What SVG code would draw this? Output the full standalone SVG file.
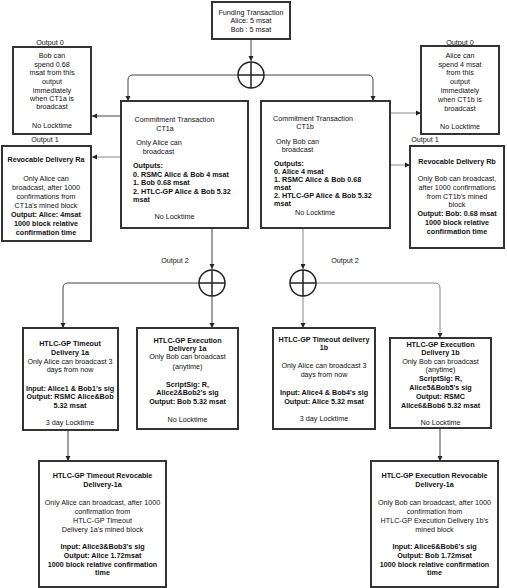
<svg xmlns="http://www.w3.org/2000/svg" width="507" height="588" viewBox="0 0 507 588">
<style>
text{font-family:"Liberation Sans",Arial,sans-serif;font-size:7.2px;fill:#111;text-anchor:middle}
.b{font-weight:bold}
.l{text-anchor:start}
.box{fill:#fff;stroke:#333;stroke-width:2}
.c{fill:none;stroke:#444;stroke-width:1}
.g{stroke:#888}
.x{fill:none;stroke:#222;stroke-width:1.5}
</style>
<defs>
<marker id="a" markerWidth="6" markerHeight="6" refX="5" refY="3" orient="auto" markerUnits="userSpaceOnUse">
<path d="M0,0.5 L5,3 L0,5.5 z" fill="#222"/>
</marker>
</defs>
<rect width="507" height="588" fill="#fff"/>

<g id="connectors">
<path class="c" d="M251,39 L251,61" marker-end="url(#a)"/>
<path class="c" d="M238,75 L133,75 Q128,75 128,80 L128,101" marker-end="url(#a)"/>
<path class="c" d="M264,75 L368,75 Q373,75 373,80 L373,101" marker-end="url(#a)"/>
<path class="c" d="M121,116 L92,116" marker-end="url(#a)"/>
<path class="c g" d="M121,157 L92,157" marker-end="url(#a)"/>
<path class="c g" d="M390,113 L421,113" marker-end="url(#a)"/>
<path class="c g" d="M390,165 L410,165" marker-end="url(#a)"/>
<path class="c" d="M212,228 L212,269" marker-end="url(#a)"/>
<path class="c g" d="M303,228 L303,269" marker-end="url(#a)"/>
<path class="c" d="M212,296 L212,328" marker-end="url(#a)"/>
<path class="c" d="M199,283 L68,283 Q63,283 63,288 L63,328" marker-end="url(#a)"/>
<path class="c g" d="M303,296 L303,328" marker-end="url(#a)"/>
<path class="c g" d="M316,283 L435,283 Q440,283 440,288 L440,338" marker-end="url(#a)"/>
<path class="c" d="M68,430 L68,461" marker-end="url(#a)"/>
<path class="c" d="M440,428 L440,461" marker-end="url(#a)"/>
</g>

<g id="xor-top"><circle class="x" cx="251" cy="75" r="13"/><path class="x" d="M238,75 H264 M251,62 V88"/></g>
<g id="xor-left"><circle class="x" cx="212" cy="283" r="13"/><path class="x" d="M199,283 H225 M212,270 V296"/></g>
<g id="xor-right"><circle class="x" cx="303" cy="283" r="13"/><path class="x" d="M290,283 H316 M303,270 V296"/></g>

<g id="labels">
<text x="50" y="44.5">Output 0</text>
<text x="460" y="44.5">Output 0</text>
<text x="45" y="142">Output 1</text>
<text x="425" y="142">Output 1</text>
<text x="175" y="262.6">Output 2</text>
<text x="345" y="262.6">Output 2</text>
</g>

<g id="funding">
<rect class="box" x="212" y="2" width="78" height="37"/>
<text x="251" y="15">Funding Transaction</text>
<text x="251" y="23.3">Alice: 5 msat</text>
<text x="251" y="31.6">Bob : 5 msat</text>
</g>

<g id="out0-left">
<rect class="box" x="13" y="47" width="78" height="87"/>
<text x="52" y="57.6">Bob can</text>
<text x="52" y="66.6">spend 0.68</text>
<text x="52" y="75.3">msat from this</text>
<text x="52" y="84.3">output</text>
<text x="52" y="92.6">immediately</text>
<text x="52" y="101">when CT1a is</text>
<text x="52" y="109.3">broadcast</text>
<text x="52" y="127.6">No Locktime</text>
</g>

<g id="revocable-ra">
<rect class="box" x="2" y="146" width="89" height="95"/>
<text class="b" x="46" y="162">Revocable Delivery Ra</text>
<text x="46" y="181">Only Alice can</text>
<text x="46" y="190">broadcast, after 1000</text>
<text x="46" y="199">confirmations from</text>
<text x="46" y="208">CT1a's mined block</text>
<text class="b" x="46" y="217.3">Output: Alice: 4msat</text>
<text class="b" x="46" y="226.3">1000 block relative</text>
<text class="b" x="46" y="235">confirmation time</text>
</g>

<g id="out0-right">
<rect class="box" x="421" y="46" width="78" height="88"/>
<text x="460" y="57.6">Alice can</text>
<text x="460" y="66.6">spend 4 msat</text>
<text x="460" y="75.3">from this</text>
<text x="460" y="84.3">output</text>
<text x="460" y="93.3">immediately</text>
<text x="460" y="102">when CT1b is</text>
<text x="460" y="111">broadcast</text>
<text x="460" y="128.6">No Locktime</text>
</g>

<g id="revocable-rb">
<rect class="box" x="410" y="146" width="94" height="102"/>
<text class="b" x="457" y="164.3">Revocable Delivery Rb</text>
<text x="457" y="181">Only Bob can broadcast,</text>
<text x="457" y="190">after 1000 confirmations</text>
<text x="457" y="198.5">from CT1b's mined</text>
<text x="457" y="207">block</text>
<text class="b" x="457" y="216">Output: Bob: 0.68 msat</text>
<text class="b" x="457" y="225.3">1000 block relative</text>
<text class="b" x="457" y="234.3">confirmation time</text>
</g>

<g id="ct1a">
<rect class="box" x="121" y="101" width="127" height="127"/>
<text x="174.5" y="122">Commitment Transaction</text>
<text x="165" y="130.5">CT1a</text>
<text x="159" y="145.3">Only Alice can</text>
<text x="158.5" y="153.6">broadcast</text>
<text class="b l" x="133" y="167.6">Outputs:</text>
<text class="b l" x="133" y="176.6">0. RSMC Alice &amp; Bob 4 msat</text>
<text class="b l" x="133" y="185">1. Bob 0.68 msat</text>
<text class="b l" x="133" y="193.6">2. HTLC-GP Alice &amp; Bob 5.32</text>
<text class="b l" x="133" y="202">msat</text>
<text x="174.5" y="218.6">No Locktime</text>
</g>

<g id="ct1b">
<rect class="box" x="261" y="101" width="129" height="127"/>
<text x="313" y="121">Commitment Transaction</text>
<text x="305" y="129">CT1b</text>
<text x="297.5" y="144">Only Bob can</text>
<text x="297.5" y="152">broadcast</text>
<text class="b l" x="274" y="166">Outputs:</text>
<text class="b l" x="274" y="174">0. Alice 4 msat</text>
<text class="b l" x="274" y="182">1. RSMC Alice &amp; Bob 0.68</text>
<text class="b l" x="274" y="190">msat</text>
<text class="b l" x="274" y="198">2. HTLC-GP Alice &amp; Bob 5.32</text>
<text class="b l" x="274" y="206">msat</text>
<text x="315" y="214.5">No Locktime</text>
</g>

<g id="timeout-1a">
<rect class="box" x="23" y="328" width="95" height="102"/>
<text class="b" x="70" y="346">HTLC-GP Timeout</text>
<text class="b" x="70" y="355">Delivery 1a</text>
<text x="70" y="363.5">Only Alice can broadcast 3</text>
<text x="70" y="372.3">days from now</text>
<text class="b" x="70" y="391">Input: Alice1 &amp; Bob1's sig</text>
<text class="b" x="70" y="399.3">Output: RSMC Alice&amp;Bob</text>
<text class="b" x="70" y="407.6">5.32 msat</text>
<text x="70" y="425.3">3 day Locktime</text>
</g>

<g id="execution-1a">
<rect class="box" x="137" y="328" width="101" height="101"/>
<text class="b" x="187.5" y="342.6">HTLC-GP Execution</text>
<text class="b" x="187.5" y="351">Delivery 1a</text>
<text x="187.5" y="359.3">Only Bob can broadcast</text>
<text x="187.5" y="368.6">(anytime)</text>
<text class="b" x="187.5" y="386.6">ScriptSig: R,</text>
<text class="b" x="187.5" y="395.3">Alice2&amp;Bob2's sig</text>
<text class="b" x="187.5" y="404.3">Output: Bob 5.32 msat</text>
<text x="187.5" y="422">No Locktime</text>
</g>

<g id="timeout-1b">
<rect class="box" x="273" y="328" width="102" height="101"/>
<text class="b" x="324" y="341.5">HTLC-GP Timeout delivery</text>
<text class="b" x="324" y="350">1b</text>
<text x="324" y="367.6">Only Alice can broadcast 3</text>
<text x="324" y="377">days from now</text>
<text class="b" x="324" y="395">Input: Alice4 &amp; Bob4's sig</text>
<text class="b" x="324" y="403.6">Output: Alice 5.32 msat</text>
<text x="324" y="421">3 day Locktime</text>
</g>

<g id="execution-1b">
<rect class="box" x="390" y="338" width="101" height="90"/>
<text class="b" x="440.5" y="346.6">HTLC-GP Execution</text>
<text class="b" x="440.5" y="355.3">Delivery 1b</text>
<text x="440.5" y="363.6">Only Bob can broadcast</text>
<text x="440.5" y="372">(anytime)</text>
<text class="b" x="440.5" y="381">ScriptSig: R,</text>
<text class="b" x="440.5" y="390">Alice5&amp;Bob5's sig</text>
<text class="b" x="440.5" y="398.6">Output: RSMC</text>
<text class="b" x="440.5" y="407.6">Alice6&amp;Bob6 5.32 msat</text>
<text x="440.5" y="425.3">No Locktime</text>
</g>

<g id="timeout-revocable-1a">
<rect class="box" x="39" y="461" width="127" height="126"/>
<text class="b" x="102.5" y="478">HTLC-GP Timeout Revocable</text>
<text class="b" x="102.5" y="486.5">Delivery-1a</text>
<text x="102.5" y="505">Only Alice can broadcast, after 1000</text>
<text x="102.5" y="514">confirmation from</text>
<text x="102.5" y="522.6">HTLC-GP Timeout</text>
<text x="102.5" y="531.6">Delivery 1a's mined block</text>
<text class="b" x="102.5" y="549.3">Input: Alice3&amp;Bob3's sig</text>
<text class="b" x="102.5" y="557.8">Output: Alice 1.72msat</text>
<text class="b" x="102.5" y="566.6">1000 block relative confirmation</text>
<text class="b" x="102.5" y="575.3">time</text>
</g>

<g id="execution-revocable-1a">
<rect class="box" x="371" y="461" width="127" height="126"/>
<text class="b" x="434.5" y="478">HTLC-GP Execution Revocable</text>
<text class="b" x="434.5" y="486.5">Delivery-1a</text>
<text x="434.5" y="505">Only Bob can broadcast, after 1000</text>
<text x="434.5" y="514">confirmation from</text>
<text x="434.5" y="522.6">HTLC-GP Execution Delivery 1b's</text>
<text x="434.5" y="531.6">mined block</text>
<text class="b" x="434.5" y="549.3">Input: Alice6&amp;Bob6's sig</text>
<text class="b" x="434.5" y="557.8">Output: Bob 1.72msat</text>
<text class="b" x="434.5" y="566.6">1000 block relative confirmation</text>
<text class="b" x="434.5" y="575.3">time</text>
</g>
</svg>
